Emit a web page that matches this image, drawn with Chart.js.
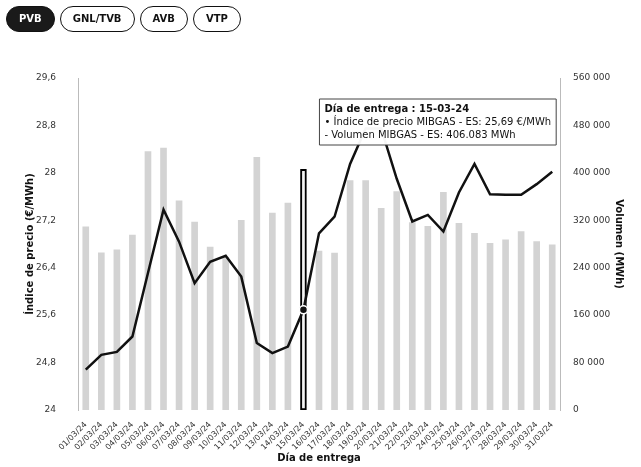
<!DOCTYPE html>
<html>
<head>
<meta charset="utf-8">
<script src="https://cdn.jsdelivr.net/npm/chart.js@4.4.1/dist/chart.umd.min.js"></script>
<style>
  html, body { margin: 0; padding: 0; background: #fff; }
  #wrap { position: relative; width: 641px; height: 467px; }
  #tabs { position: absolute; left: 6px; top: 6px; display: flex; gap: 5px; z-index: 2; }
  .tab {
    font: bold 10px "DejaVu Sans", sans-serif;
    height: 24px; line-height: 24px; padding: 0 12px;
    border: 1.5px solid #111; border-radius: 14px;
    color: #111; background: #fff;
  }
  .tab.on { background: #1a1a1a; color: #fff; }
</style>
</head>
<body>
<div id="wrap">
  <div id="tabs">
    <div class="tab on">PVB</div>
    <div class="tab">GNL/TVB</div>
    <div class="tab">AVB</div>
    <div class="tab">VTP</div>
  </div>
  <canvas id="mibgasChart"></canvas>
</div>
<script>
// days of delivery (March 2024)
const days = [
  "01/03/24", "02/03/24", "03/03/24", "04/03/24", "05/03/24", "06/03/24", "07/03/24", "08/03/24",
  "09/03/24", "10/03/24", "11/03/24", "12/03/24", "13/03/24", "14/03/24", "15/03/24", "16/03/24",
  "17/03/24", "18/03/24", "19/03/24", "20/03/24", "21/03/24", "22/03/24", "23/03/24", "24/03/24",
  "25/03/24", "26/03/24", "27/03/24", "28/03/24", "29/03/24", "30/03/24", "31/03/24"
];

// Índice de precio MIBGAS - ES (€/MWh)
const priceIndex = [
  24.68, 24.93, 24.98, 25.24, 26.31, 27.38, 26.84, 26.14,
  26.50, 26.60, 26.25, 25.13, 24.96, 25.07, 25.69, 26.98,
  27.26, 28.15, 28.75, 28.75, 27.90, 27.18, 27.29, 27.01,
  27.67, 28.15, 27.64, 27.63, 27.63, 27.81, 28.02
];

// Volumen MIBGAS - ES (MWh)
const volume = [
  309000, 265000, 270000, 295000, 436000, 442000, 353000, 317000,
  275000, 258000, 320000, 426000, 332000, 349000, 406083, 268000,
  264500, 387000, 387000, 340000, 368500, 316000, 310000, 367000,
  315000, 298000, 281000, 287000, 301000, 284000, 278500
];

const priceTicks = [24, 24.8, 25.6, 26.4, 27.2, 28, 28.8, 29.6];
const volumeTicks = [0, 80000, 160000, 240000, 320000, 400000, 480000, 560000];

// hovered day shown in the tooltip
const selectedDay = 14;

const fmtPrice = v => v.toFixed(2).replace(".", ",");
const fmtThousands = (v, sep) => String(v).replace(/\B(?=(\d{3})+(?!\d))/g, sep);

Chart.Tooltip.positioners.aboveArea = function (items) {
  if (!items.length) return false;
  const area = this.chart.chartArea;
  return { x: items[0].element.x + 16, y: area.top + 21 };
};

const ctx = document.getElementById("mibgasChart").getContext("2d");
const chart = new Chart(ctx, {
  data: {
    labels: days,
    datasets: [
      {
        type: "line",
        label: "Índice de precio MIBGAS - ES",
        data: priceIndex,
        yAxisID: "yPrice",
        order: 0,
        borderColor: "#111",
        borderWidth: 2.5,
        tension: 0,
        pointRadius: c => c.dataIndex === selectedDay ? 4 : 0,
        pointBackgroundColor: "#111",
        pointBorderColor: "#fff",
        pointBorderWidth: 1.5
      },
      {
        type: "bar",
        label: "Volumen MIBGAS - ES",
        data: volume,
        yAxisID: "yVol",
        order: 1,
        barThickness: 6,
        backgroundColor: c => c.dataIndex === selectedDay ? "#f4f4f4" : "#d3d3d3",
        borderColor: "#000",
        borderWidth: c => c.dataIndex === selectedDay ? 2 : 0,
        borderSkipped: false
      }
    ]
  },
  options: {
    responsive: true,
    maintainAspectRatio: false,
    animation: false,
    events: [],
    layout: { padding: { top: 78, left: 20, right: 12, bottom: 0 } },
    plugins: {
      legend: { display: false },
      tooltip: {
        position: "aboveArea",
        xAlign: "left",
        yAlign: "top",
        caretSize: 0,
        caretPadding: 0,
        cornerRadius: 0,
        displayColors: false,
        backgroundColor: "rgba(255,255,255,0.96)",
        borderColor: "#444",
        borderWidth: 1,
        titleColor: "#111",
        bodyColor: "#111",
        titleFont: { family: "DejaVu Sans", size: 10, weight: "bold" },
        bodyFont: { family: "DejaVu Sans", size: 10 },
        titleMarginBottom: 1,
        bodySpacing: 1,
        padding: { x: 5, y: 4 },
        callbacks: {
          title: items => "Día de entrega : " + days[items[0].dataIndex].replace(/\//g, "-"),
          label: c => c.datasetIndex === 0
            ? "• Índice de precio MIBGAS - ES: " + fmtPrice(c.raw) + " €/MWh"
            : "- Volumen MIBGAS - ES: " + fmtThousands(c.raw, ".") + " MWh"
        }
      }
    },
    scales: {
      x: {
        offset: true,
        grid: { display: false },
        border: { display: false },
        ticks: {
          autoSkip: false,
          minRotation: 45,
          maxRotation: 45,
          padding: 2,
          color: "#333",
          font: { family: "DejaVu Sans", size: 8 }
        },
        title: {
          display: true,
          text: "Día de entrega",
          color: "#111",
          font: { family: "DejaVu Sans", size: 10, weight: "bold" },
          padding: { top: 2, bottom: 3 }
        },
        afterFit: s => { s.height = 57; }
      },
      yPrice: {
        position: "left",
        min: 24,
        max: 29.6,
        afterBuildTicks: s => { s.ticks = priceTicks.map(v => ({ value: v })); },
        grid: { display: false, drawTicks: false },
        border: { display: true, color: "#bbb", dash: [2, 2] },
        ticks: {
          padding: 22,
          color: "#333",
          font: { family: "DejaVu Sans", size: 9 },
          callback: v => String(v).replace(".", ",")
        },
        title: {
          display: true,
          text: "Índice de precio (€/MWh)",
          color: "#111",
          font: { family: "DejaVu Sans", size: 10, weight: "bold" },
          padding: { top: 4, bottom: 0 }
        },
        afterFit: s => { s.width = 58; }
      },
      yVol: {
        position: "right",
        min: 0,
        max: 560000,
        afterBuildTicks: s => { s.ticks = volumeTicks.map(v => ({ value: v })); },
        grid: { display: false, drawTicks: false },
        border: { display: true, color: "#bbb", dash: [2, 2] },
        ticks: {
          padding: 13,
          color: "#333",
          font: { family: "DejaVu Sans", size: 9 },
          callback: v => fmtThousands(v, " ")
        },
        title: {
          display: true,
          text: "Volumen (MWh)",
          color: "#111",
          font: { family: "DejaVu Sans", size: 10, weight: "bold" },
          padding: { top: 4, bottom: 0 }
        },
        afterFit: s => { s.width = 69; }
      }
    }
  }
});

// show the hover tooltip for the selected day
chart.tooltip.setActiveElements([
  { datasetIndex: 0, index: selectedDay },
  { datasetIndex: 1, index: selectedDay }
], { x: 0, y: 0 });
chart.update();
</script>
</body>
</html>
